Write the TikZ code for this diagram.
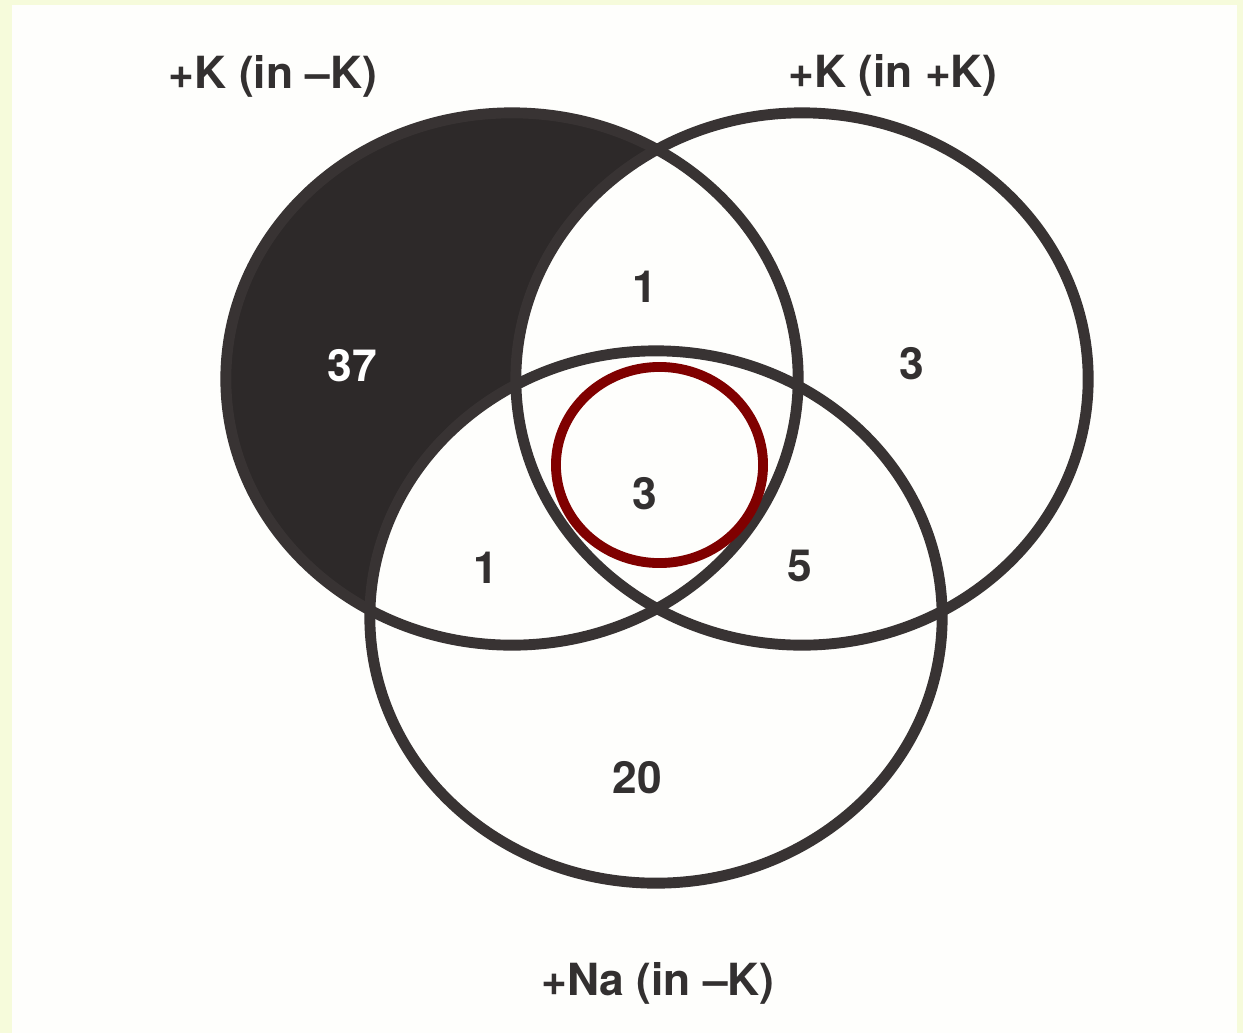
\documentclass[tikz,border=0pt]{standalone}
\usepackage{fontspec}
\setmainfont{TeX Gyre Heros}
\usepackage{tikz}
\definecolor{frame}{HTML}{F6FBDB}
\definecolor{paper}{HTML}{FEFEFC}
\definecolor{setgrey}{HTML}{383333}
\definecolor{setdark}{HTML}{2D2929}
\definecolor{inkgrey}{HTML}{333030}
\definecolor{ringred}{HTML}{800000}
\tikzset{
  setline/.style={draw=setgrey, line width=3.1pt},
  ringline/.style={draw=ringred, line width=2.8pt},
  setsize/.style={x radius=2.86cm, y radius=2.66cm},
  count/.style={font=\fontsize{12.6}{15}\selectfont\bfseries, text=inkgrey, inner sep=0pt},
  setlabel/.style={font=\fontsize{12.6}{15}\selectfont\bfseries, text=inkgrey, inner sep=0pt, anchor=base},
}

\begin{document}
\begin{tikzpicture}[x=0.01cm, y=-0.01cm]
  % Paper
  \fill[frame] (0,0) rectangle (1243,1033);
  \fill[paper] (12,5) rectangle (1237,1033);
  \useasboundingbox (0,0) rectangle (1243,1033);

  % Set centres
  \coordinate (kminus) at (512,379);
  \coordinate (kplus) at (802,379);
  \coordinate (naminus) at (656,617);
  \coordinate (core) at (659.5,465);

  % Shaded part: only in +K (in -K)
  \fill[setdark] (kminus) ellipse [setsize];
  \fill[paper] (kplus) ellipse [setsize];
  \fill[paper] (naminus) ellipse [setsize];

  % Outlines
  \draw[setline] (kminus) ellipse [setsize];
  \draw[setline] (kplus) ellipse [setsize];
  \draw[setline] (naminus) ellipse [setsize];
  \draw[ringline] (core) ellipse [x radius=1.035cm, y radius=0.98cm];

  % Set labels
  \node[setlabel] (labkm) at (273,88) {+K (in –K)};
  \node[setlabel] (labkp) at (893,87) {+K (in +K)};
  \node[setlabel] (labna) at (658,995) {+Na (in –K)};

  % Counts
  \node[count, text=white] (onlykm) at (352,366) {37};
  \node[count] (kmkp) at (645,287) {1};
  \node[count] (onlykp) at (912,364) {3};
  \node[count] (allthree) at (645,494) {3};
  \node[count] (kmna) at (486,568) {1};
  \node[count] (kpna) at (800,566) {5};
  \node[count] (onlyna) at (637,778) {20};
\end{tikzpicture}
\end{document}
